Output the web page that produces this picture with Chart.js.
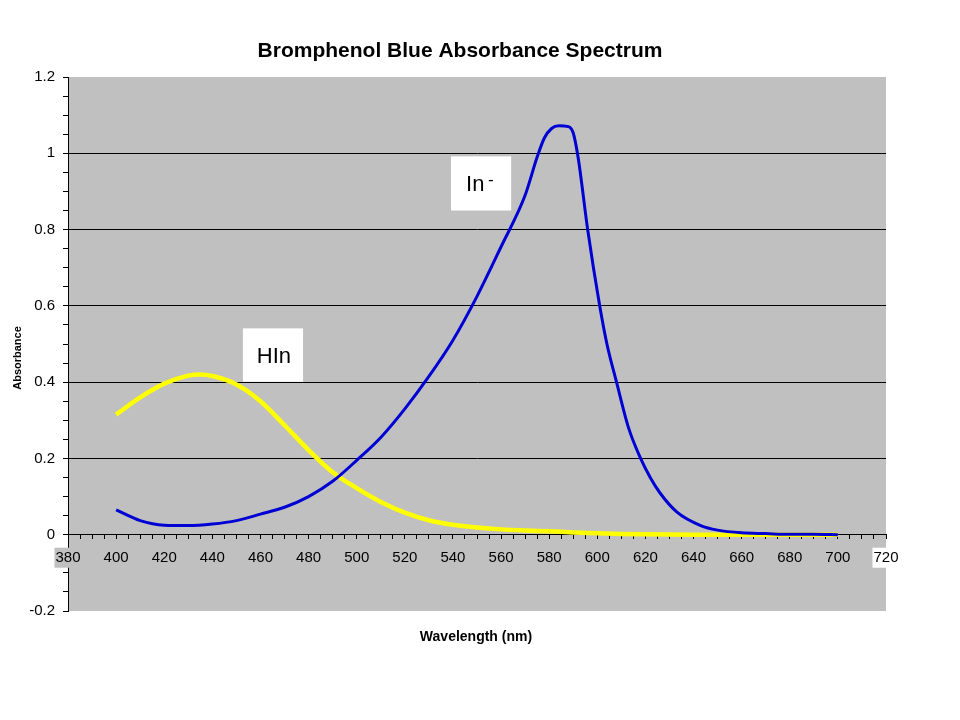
<!DOCTYPE html>
<html>
<head>
<meta charset="utf-8">
<title>Bromphenol Blue Absorbance Spectrum</title>
<script src="https://cdn.jsdelivr.net/npm/chart.js@4.4.1/dist/chart.umd.min.js"></script>
<style>
  html, body { margin: 0; padding: 0; background: #fff; }
  canvas { display: block; }
</style>
</head>
<body>
<canvas id="myChart" width="960" height="720"></canvas>
<script>
// HIn (acid form, yellow) - wavelength in nm, absorbance
const hinWavelength = [400, 410, 420, 430, 435, 440, 450, 460, 470, 480, 490, 500, 510, 520, 530, 540, 550, 560, 570, 580, 590, 600, 610, 620, 640, 660, 680, 700];
const hinAbsorbance = [0.315, 0.36, 0.396, 0.417, 0.42, 0.416, 0.394, 0.35, 0.287, 0.222, 0.164, 0.122, 0.086, 0.058, 0.038, 0.026, 0.019, 0.014, 0.011, 0.009, 0.006, 0.004, 0.002, 0.001, 0, 0, 0, 0];

// In- (base form, blue)
const inWavelength = [400, 410, 420, 430, 440, 450, 460, 470, 480, 490, 500, 510, 520, 530, 540, 550, 560, 570, 575, 578, 581, 584, 588, 590, 592, 596, 601, 604, 608, 613, 618, 622, 626, 633, 643, 650, 660, 670, 680, 690, 700];
const inAbsorbance = [0.065, 0.037, 0.025, 0.024, 0.028, 0.037, 0.054, 0.072, 0.1, 0.14, 0.195, 0.255, 0.33, 0.415, 0.51, 0.625, 0.755, 0.89, 0.99, 1.04, 1.065, 1.072, 1.07, 1.053, 0.99, 0.8, 0.6, 0.5, 0.4, 0.28, 0.2, 0.15, 0.11, 0.06, 0.024, 0.012, 0.005, 0.003, 0.001, 0.001, 0];

const chartTitle = 'Bromphenol Blue Absorbance Spectrum';
const xTitle = 'Wavelength (nm)';
const yTitle = 'Absorbance';

const FONT = "'Liberation Sans', Arial, sans-serif";
const PLOT_GREY = '#c0c0c0';

Chart.defaults.font.family = FONT;
Chart.defaults.color = '#000';

function toPoints(xs, ys) {
    return xs.map((x, i) => ({ x: x, y: ys[i] }));
}

function isMajorY(v) {
    return Math.abs(v / 0.2 - Math.round(v / 0.2)) < 1e-6;
}

// grey plot area
const plotBackground = {
    id: 'plotBackground',
    beforeDraw(chart) {
        const { ctx, chartArea: a } = chart;
        ctx.save();
        ctx.fillStyle = PLOT_GREY;
        ctx.fillRect(a.left, a.top, a.right - a.left, a.bottom - a.top);
        ctx.restore();
    }
};

// titles and the two white label boxes
const chartTexts = {
    id: 'chartTexts',
    afterDraw(chart) {
        const { ctx, scales } = chart;
        const x = scales.x, y = scales.y;
        ctx.save();
        ctx.fillStyle = '#000';
        ctx.textAlign = 'center';
        ctx.textBaseline = 'middle';

        ctx.font = 'bold 21px ' + FONT;
        ctx.fillText(chartTitle, 460, 51);

        ctx.font = 'bold 14px ' + FONT;
        ctx.fillText(xTitle, 476, 637);

        ctx.save();
        ctx.translate(18, 358);
        ctx.rotate(-Math.PI / 2);
        ctx.font = 'bold 11px ' + FONT;
        ctx.fillText(yTitle, 0, 0);
        ctx.restore();

        // In- box
        let l = x.getPixelForValue(539.2), r = x.getPixelForValue(564.2);
        let t = y.getPixelForValue(0.992), b = y.getPixelForValue(0.85);
        ctx.fillStyle = '#fff';
        ctx.fillRect(l, t, r - l, b - t);
        ctx.fillStyle = '#000';
        ctx.textAlign = 'left';
        ctx.textBaseline = 'alphabetic';
        ctx.font = '22px ' + FONT;
        ctx.fillText('In', l + 15, t + 35);
        ctx.font = '17px ' + FONT;
        ctx.fillText('-', l + 37, t + 29);

        // HIn box
        l = x.getPixelForValue(452.7); r = x.getPixelForValue(477.7);
        t = y.getPixelForValue(0.541); b = y.getPixelForValue(0.401);
        ctx.fillStyle = '#fff';
        ctx.fillRect(l, t, r - l, b - t);
        ctx.fillStyle = '#000';
        ctx.textAlign = 'center';
        ctx.font = '22px ' + FONT;
        ctx.fillText('HIn', (l + r) / 2 + 1, t + 35);
        ctx.restore();
    }
};

const ctx = document.getElementById('myChart').getContext('2d');
new Chart(ctx, {
    type: 'line',
    data: {
        datasets: [{
            label: 'In-',
            data: toPoints(inWavelength, inAbsorbance),
            borderColor: '#0000d4',
            borderWidth: 3,
            pointRadius: 0,
            fill: false,
            cubicInterpolationMode: 'monotone',
            order: 1
        }, {
            label: 'HIn',
            data: toPoints(hinWavelength, hinAbsorbance),
            borderColor: '#ffff00',
            borderWidth: 4.5,
            pointRadius: 0,
            fill: false,
            cubicInterpolationMode: 'monotone',
            order: 2
        }]
    },
    options: {
        responsive: false,
        animation: false,
        layout: {
            padding: { left: 0, top: 77, right: 74, bottom: 109 }
        },
        plugins: {
            legend: { display: false },
            title: { display: false },
            tooltip: { enabled: false }
        },
        scales: {
            y: {
                type: 'linear',
                position: 'left',
                min: -0.2,
                max: 1.2,
                ticks: {
                    stepSize: 0.05,
                    autoSkip: false,
                    padding: 8,
                    color: '#000',
                    font: { size: 15 },
                    callback: v => isMajorY(v) ? String(Math.round(v * 10) / 10) : ''
                },
                grid: {
                    color: c => {
                        const v = c.tick ? c.tick.value : 0;
                        return isMajorY(v) && v > -0.19 && v < 1.19 ? '#000' : 'rgba(0,0,0,0)';
                    },
                    tickColor: '#000',
                    tickLength: 5,
                    lineWidth: 1
                },
                border: { display: true, color: '#000', width: 1 },
                afterFit: s => { s.width = 68; }
            },
            x: {
                type: 'linear',
                position: { y: 0 },
                min: 380,
                max: 720,
                ticks: {
                    stepSize: 5,
                    autoSkip: false,
                    maxRotation: 0,
                    padding: 10,
                    color: '#000',
                    font: { size: 15 },
                    callback: v => v % 20 === 0 ? String(v) : '',
                    showLabelBackdrop: true,
                    backdropColor: c => {
                        const v = c.tick ? c.tick.value : 0;
                        if (v % 20 !== 0) return 'rgba(0,0,0,0)';
                        return v === 720 ? '#fff' : PLOT_GREY;
                    },
                    backdropPadding: { x: 1, y: 1 }
                },
                grid: {
                    drawOnChartArea: false,
                    tickColor: '#000',
                    tickLength: 4
                },
                border: { display: true, color: '#000', width: 1 }
            }
        }
    },
    plugins: [plotBackground, chartTexts]
});
</script>
</body>
</html>
